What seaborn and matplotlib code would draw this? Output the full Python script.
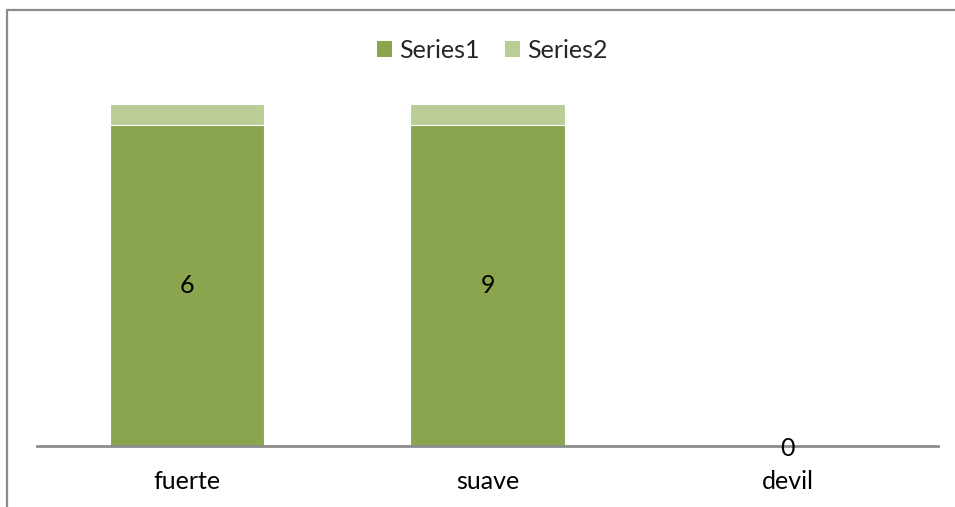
import matplotlib
matplotlib.use("Agg")
import matplotlib.pyplot as plt
from matplotlib.lines import Line2D
from matplotlib.patches import Patch
import seaborn as sns
import pandas as pd
import numpy as np

categories = ["fuerte", "suave", "devil"]
series1 = [6, 9, 0]
series2 = [0.4, 0.6, 0]
series_names = ["Series1", "Series2"]
colors = ["#8BA54F", "#BACD97"]

sns.set_theme(style="white")
plt.rcParams["font.family"] = ["Lato", "DejaVu Sans"]
FS = 18

# 100% stacked shares
s1 = np.array(series1, dtype=float)
s2 = np.array(series2, dtype=float)
total = s1 + s2
share1 = np.divide(s1, total, out=np.zeros_like(s1), where=total > 0)
share_total = np.where(total > 0, 1.0, 0.0)

df = pd.DataFrame({"cat": categories, "s1": share1, "tot": share_total})

W, H = 955, 507
fig = plt.figure(figsize=(W / 100, H / 100), dpi=100, edgecolor="white", linewidth=0)
ax = fig.add_axes([37 / W, (H - 446) / H, 901 / W, (446 - 104) / H])

sns.barplot(data=df, x="cat", y="tot", color=colors[1], width=0.513,
            saturation=1, edgecolor="white", linewidth=0.8, ax=ax)
sns.barplot(data=df, x="cat", y="s1", color=colors[0], width=0.513,
            saturation=1, edgecolor="white", linewidth=0.8, ax=ax)

ax.set_ylim(0, 1)
ax.set_xlim(-0.5, len(categories) - 0.5)
ax.set_xlabel("")
ax.set_ylabel("")
ax.set_yticks([])
for side in ["top", "left", "right"]:
    ax.spines[side].set_visible(False)
ax.spines["bottom"].set_color("#8C8C8C")
ax.spines["bottom"].set_linewidth(2)
ax.tick_params(axis="x", length=0, pad=17, labelsize=FS, labelcolor="#000000")

# value labels of Series1, centred in each segment
for i, (v, sh) in enumerate(zip(series1, share1)):
    if sh > 0:
        ax.text(i, sh / 2, f"{v:g}", ha="center", va="center", fontsize=FS,
                color="#000000", zorder=5)
    else:
        ax.annotate(f"{v:g}", xy=(i, 0), xytext=(0, -1.5), textcoords="offset points",
                    ha="center", va="center", fontsize=FS, color="#000000",
                    zorder=5, annotation_clip=False)

handles = [Patch(facecolor=c, edgecolor="none") for c in colors]
fig.legend(handles, series_names, loc="center", bbox_to_anchor=(492 / W, 1 - 50 / H),
           ncol=2, frameon=False, fontsize=FS, handlelength=0.6, handleheight=0.6,
           handletextpad=0.3, columnspacing=1.0)

# chart-area frame: top and left edges (the rest runs off the canvas)
frame_kw = dict(transform=fig.transFigure, color="#8C8C8C", linewidth=1.6)
fig.lines.append(Line2D([7 / W, 1.0], [1 - 10 / H, 1 - 10 / H], **frame_kw))
fig.lines.append(Line2D([7 / W, 7 / W], [0.0, 1 - 10 / H], **frame_kw))

fig.savefig("out.png", dpi=100, facecolor="white", edgecolor="white")
